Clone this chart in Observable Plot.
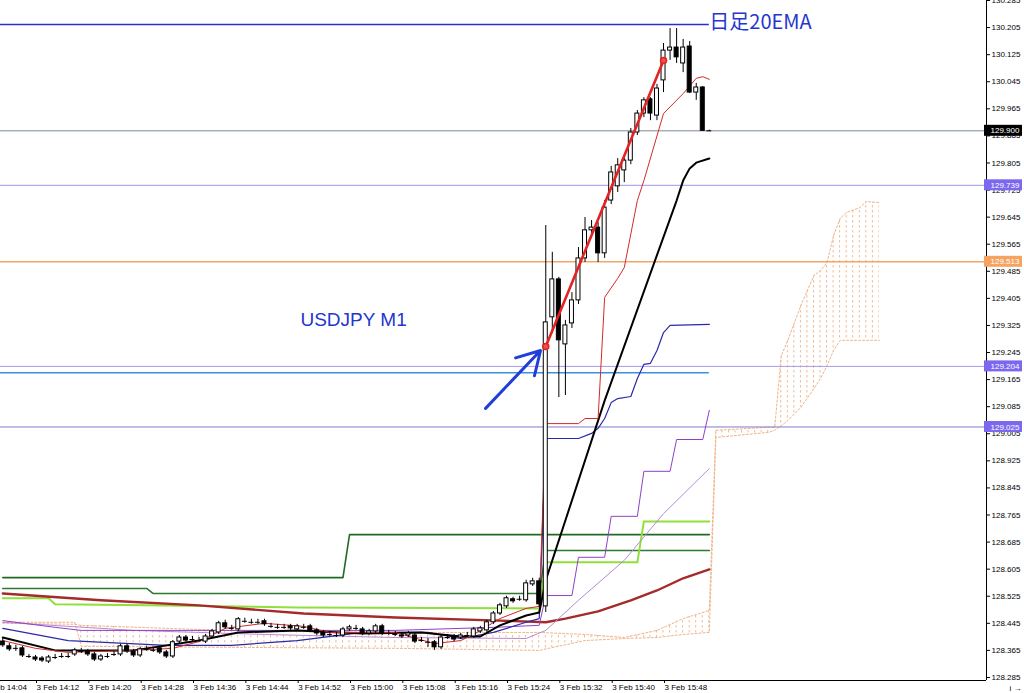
<!DOCTYPE html>
<html><head><meta charset="utf-8">
<script src="https://cdn.jsdelivr.net/npm/d3@7"></script>
<script src="https://cdn.jsdelivr.net/npm/@observablehq/plot@0.6"></script>
<style>html,body{margin:0;padding:0;background:#fff;overflow:hidden}</style>
</head><body><div id="chart"></div>
<script>
// ---- candles (bar index 0 = 3 Feb 14:07, one bar per minute) ----
const openP = [128.391,128.377,128.371,128.371,128.347,128.344,128.341,128.332,128.344,128.347,
128.347,128.353,128.362,128.362,128.353,128.338,128.347,128.353,128.353,128.377,
128.362,128.350,128.368,128.365,128.371,128.359,128.347,128.391,128.403,128.397,
128.394,128.391,128.406,128.418,128.445,128.430,128.427,128.451,128.448,128.448,
128.451,128.436,128.433,128.433,128.436,128.427,128.433,128.436,128.424,128.418,
128.412,128.409,128.409,128.427,128.430,128.427,128.415,128.421,128.436,128.415,
128.412,128.409,128.409,128.409,128.394,128.389,128.389,128.374,128.403,128.406,
128.403,128.409,128.406,128.421,128.424,128.448,128.474,128.495,128.516,128.516,
128.513,128.560,128.569,128.495,129.349,129.461,129.269,129.331,129.399,129.523,
129.606,129.614,129.538,129.694,129.736,129.783,129.812,129.895,129.951,129.993,
129.945,130.049,130.137,130.146,130.099,130.149,130.013,130.028,129.900];
const highP = [128.400,128.385,128.380,128.377,128.353,128.350,128.347,128.350,128.353,128.356,
128.356,128.371,128.371,128.368,128.359,128.353,128.356,128.362,128.383,128.383,
128.368,128.374,128.377,128.374,128.377,128.365,128.394,128.409,128.409,128.406,
128.403,128.412,128.427,128.451,128.454,128.439,128.462,128.460,128.457,128.457,
128.457,128.445,128.442,128.442,128.442,128.442,128.442,128.442,128.430,128.424,
128.421,128.418,128.433,128.439,128.439,128.433,128.427,128.442,128.442,128.424,
128.421,128.415,128.421,128.415,128.403,128.400,128.394,128.409,128.412,128.412,
128.415,128.418,128.433,128.436,128.454,128.480,128.504,128.525,128.522,128.525,
128.572,128.578,128.578,129.620,129.541,129.467,129.340,129.422,129.555,129.644,
129.635,129.629,129.694,129.795,129.818,129.827,129.907,129.960,129.998,129.998,
130.037,130.158,130.202,130.202,130.170,130.164,130.040,130.031,129.902];
const lowP = [128.374,128.362,128.362,128.344,128.341,128.332,128.329,128.326,128.338,128.341,
128.341,128.347,128.356,128.347,128.332,128.332,128.341,128.347,128.347,128.356,
128.344,128.344,128.362,128.359,128.353,128.341,128.341,128.385,128.389,128.391,
128.389,128.385,128.400,128.412,128.427,128.424,128.421,128.445,128.442,128.442,
128.436,128.430,128.427,128.427,128.424,128.421,128.427,128.418,128.409,128.403,
128.406,128.403,128.403,128.421,128.424,128.409,128.409,128.415,128.409,128.409,
128.406,128.400,128.403,128.385,128.389,128.374,128.365,128.368,128.397,128.391,
128.397,128.403,128.400,128.415,128.418,128.442,128.468,128.489,128.504,128.510,
128.507,128.554,128.492,128.477,129.301,129.112,129.118,129.316,129.387,129.511,
129.585,129.511,129.523,129.682,129.718,129.747,129.800,129.886,129.939,129.930,
129.930,130.013,130.108,130.099,130.072,130.010,129.990,129.898,129.898];
const closeP = [128.380,128.368,128.371,128.350,128.347,128.338,128.335,128.344,128.344,128.347,
128.347,128.365,128.362,128.353,128.338,128.347,128.347,128.353,128.377,128.362,
128.350,128.368,128.368,128.365,128.359,128.347,128.389,128.403,128.394,128.397,
128.394,128.406,128.421,128.445,128.433,128.430,128.457,128.451,128.448,128.448,
128.442,128.436,128.433,128.433,128.430,128.436,128.433,128.424,128.415,128.409,
128.412,128.409,128.427,128.433,128.430,128.415,128.421,128.436,128.415,128.415,
128.412,128.406,128.415,128.391,128.394,128.389,128.374,128.403,128.403,128.397,
128.409,128.409,128.427,128.430,128.448,128.474,128.498,128.519,128.510,128.516,
128.563,128.569,128.501,129.334,129.461,129.281,129.325,129.399,129.523,129.606,
129.614,129.538,129.673,129.777,129.798,129.812,129.895,129.951,129.990,129.951,
130.025,130.137,130.146,130.117,130.146,130.013,130.028,129.900,129.900];

// ---- indicator lines: [bar index, price] ----
const tenkan = [[0,128.394],[5,128.371],[10,128.359],[20,128.365],[26,128.371],[30,128.391],[34,128.430],[40,128.445],[46,128.436],[50,128.418],[60,128.418],[66,128.385],[70,128.394],[72,128.412],[76,128.459],[80,128.489],[82,128.495],[83,129.035],[88,129.035],[89,129.050],[91,129.050],[92,129.408],[94,129.464],[95,129.496],[97,129.694],[98,129.753],[101,129.951],[104,130.010],[106,130.055],[107,130.060],[108,130.052]];
const kijun = [[0,128.430],[10,128.394],[25,128.380],[35,128.380],[45,128.394],[55,128.418],[65,128.418],[70,128.400],[75,128.418],[80,128.448],[82,128.459],[83,128.991],[88,128.991],[90,129.006],[91,129.021],[92,129.050],[93,129.097],[94,129.109],[96,129.115],[97,129.168],[98,129.210],[99,129.213],[100,129.251],[101,129.304],[102,129.325],[108,129.328]];
const emaBlack = [[0,128.403],[8,128.365],[20,128.365],[30,128.394],[36,128.418],[45,128.424],[55,128.415],[64,128.418],[70,128.406],[73,128.406],[76,128.439],[80,128.468],[82,128.477],[83,128.572],[92,129.103],[103,129.694],[104,129.753],[105,129.789],[106,129.806],[108,129.818]];
const purpleStep = [[0,128.453],[8,128.433],[12,128.424],[60,128.424],[75,128.433],[82,128.439],[83,128.527],[87,128.527],[88,128.640],[92,128.640],[93,128.761],[97,128.761],[98,128.894],[102,128.894],[103,128.988],[107,128.988],[108,129.074]];
const mauveSma = [[0,128.448],[20,128.424],[40,128.412],[60,128.403],[80,128.400],[83,128.424],[88,128.513],[95,128.631],[101,128.769],[108,128.902]];
const darkRedSma = [[0,128.533],[15,128.513],[30,128.498],[46,128.474],[60,128.462],[76,128.453],[83,128.448],[86,128.459],[91,128.480],[96,128.513],[100,128.542],[104,128.578],[108,128.604]];
const greenDark1 = [[0,128.580],[52,128.580],[53,128.707],[108,128.707]];
const greenDark2 = [[0,128.548],[22,128.548],[23,128.533],[82,128.533],[83,128.660],[108,128.660]];
const greenLight = [[0,128.519],[7,128.519],[8,128.501],[22,128.498],[45,128.492],[82,128.489],[83,128.625],[97,128.625],[98,128.746],[108,128.746]];

// ---- ichimoku cloud (shifted 26 bars forward) ----
const cloudIdx = [0,11,12,34,60,82,89,95,100,104,108,109,117,118,119,120,122,124,125,126,127,128,129,131,132,134];
const spanA = [128.445,128.442,128.439,128.424,128.418,128.418,128.412,128.403,128.424,128.459,128.483,129.015,129.024,129.024,129.236,129.281,129.384,129.473,129.487,129.511,129.591,129.641,129.659,129.673,129.691,129.688];
const spanB = [128.448,128.448,128.377,128.374,128.371,128.365,128.394,128.400,128.403,128.412,128.418,128.994,129.009,129.015,129.029,129.044,129.083,129.139,129.168,129.207,129.251,129.281,129.281,129.281,129.281,129.281];

// ---- horizontal levels ----
const ema20Daily = 130.214;
const lightBlueLevel = 129.185;
const levelValues = [129.900, 129.739, 129.513, 129.204, 129.025];
const levelLineColors = ["#7d8a96", "#a197e6", "#f2a766", "#a59ce6", "#7f7cc9"];
const levelBoxColors = ["#000000", "#7b68ee", "#f4a460", "#7b68ee", "#7b68ee"];

// ---- annotations ----
const trendLine = [[83, 129.263], [101, 130.108]];
const arrowFrom = [73.8, 129.080];
const arrowTo = [82.2, 129.251];
const titleText = {i: 45.5, p: 129.340, t: "USDJPY M1"};
const emaText = {i: 108, p: 130.220, t: "日足20EMA"};

// ---- axes ----
const yTicks = [128.285,128.365,128.445,128.525,128.605,128.685,128.765,128.845,128.925,129.005,
129.085,129.165,129.245,129.325,129.405,129.485,129.565,129.645,129.725,129.805,
129.885,129.965,130.045,130.125,130.205,130.285];
const xTickIdx = [-3,5,13,21,29,37,45,53,61,69,77,85,93,101];
const xTickLabels = ["3 Feb 14:04","3 Feb 14:12","3 Feb 14:20","3 Feb 14:28","3 Feb 14:36","3 Feb 14:44","3 Feb 14:52","3 Feb 15:00","3 Feb 15:08","3 Feb 15:16","3 Feb 15:24","3 Feb 15:32","3 Feb 15:40","3 Feb 15:48"];
const xDomain = [-0.35, 150.37];
const yDomain = [128.276, 130.285];

// build tables
const candles = openP.map((o, i) => ({i, o, h: highP[i], l: lowP[i], c: closeP[i]}));
const bodies = candles.filter(d => d.o !== d.c);
const dojis = candles.filter(d => d.o === d.c);
const cloud = cloudIdx.map((i, k) => ({i, a: spanA[k], b: spanB[k]}));
const levels = levelValues.map((v, k) => ({v, line: levelLineColors[k], box: levelBoxColors[k]}));
const labelMap = new Map(xTickIdx.map((d, k) => [d, xTickLabels[k]]));
const X = d => d[0], Y = d => d[1];
const lineSpecs = [
  [greenDark1, "#1f6b22", 1.6],
  [greenDark2, "#2d7a30", 1.6],
  [greenLight, "#8fe03a", 2],
  [darkRedSma, "#a52a2a", 2.4],
  [mauveSma, "#b88ad2", 1],
  [purpleStep, "#9040c8", 1],
  [kijun, "#2a2aa8", 1.2],
  [emaBlack, "#000000", 2],
  [tenkan, "#d42a2a", 1]
];

const chart = Plot.plot({
  width: 1024, height: 693,
  marginLeft: 0, marginRight: 38, marginTop: 0, marginBottom: 13,
  x: {domain: xDomain},
  y: {domain: yDomain},
  style: {background: "#fff", fontFamily: "'Liberation Sans', Arial, sans-serif", fontSize: "8px", color: "#000"},
  marks: [
    Plot.areaY(cloud, {x: "i", y1: "a", y2: "b", fill: "url(#kumo)", curve: "linear"}),
    Plot.line(cloud, {x: "i", y: "a", stroke: "#efb48a", strokeWidth: 1, strokeDasharray: "2,2"}),
    Plot.line(cloud, {x: "i", y: "b", stroke: "#efb48a", strokeWidth: 1, strokeDasharray: "2,2"}),
    Plot.ruleY(levels, {y: "v", stroke: "line", strokeWidth: d => d.v === 129.513 ? 1.5 : 1}),
    Plot.ruleY([lightBlueLevel], {x1: () => xDomain[0], x2: () => 108, stroke: "#3c8fe0", strokeWidth: 1.6}),
    Plot.ruleY([ema20Daily], {x1: () => xDomain[0], x2: () => 108, stroke: "#2430d4", strokeWidth: 1.6}),
    ...lineSpecs.map(([data, color, w]) => Plot.line(data, {x: X, y: Y, stroke: color, strokeWidth: w})),
    Plot.ruleX(candles, {x: "i", y1: "l", y2: "h", stroke: "#000", strokeWidth: 1}),
    Plot.rect(bodies, {x1: "i", x2: "i", y1: "o", y2: "c", insetLeft: -2, insetRight: -2,
      fill: d => d.c > d.o ? "#fff" : "#000", stroke: "#000", strokeWidth: 1}),
    Plot.ruleY(dojis, {y: "c", x1: "i", x2: "i", insetLeft: -2.5, insetRight: -2.5, stroke: "#000"}),
    Plot.line(trendLine, {x: X, y: Y, stroke: "#e42222", strokeWidth: 2.6}),
    Plot.dot(trendLine, {x: X, y: Y, r: 3, fill: "#ee5050", stroke: "#e42222"}),
    Plot.arrow([{a: arrowFrom, b: arrowTo}], {x1: d => d.a[0], y1: d => d.a[1], x2: d => d.b[0], y2: d => d.b[1],
      stroke: "#1f3fd8", strokeWidth: 3, headLength: 13}),
    Plot.text([titleText], {x: "i", y: "p", text: "t", fontSize: 19, fill: "#2536d0", textAnchor: "start",
      fontFamily: "'Liberation Sans', Arial, sans-serif"}),
    Plot.text([emaText], {x: "i", y: "p", text: "t", fontSize: 20, fill: "#2536d0", textAnchor: "start",
      fontFamily: "'Noto Sans CJK JP', 'Liberation Sans', sans-serif"}),
    Plot.ruleX([xDomain[1]], {stroke: "#000"}),
    Plot.ruleY([yDomain[0]], {stroke: "#000"}),
    Plot.axisY(yTicks, {anchor: "right", tickSize: 3, tickPadding: 2, tickFormat: d => d.toFixed(3), fontSize: 8, stroke: "#000"}),
    Plot.axisX(xTickIdx, {anchor: "bottom", tickSize: 3, tickPadding: 1, tickFormat: d => labelMap.get(d), textAnchor: "start", dx: 1, fontSize: 8}),
    Plot.rect(levels, {x1: () => xDomain[1], x2: () => xDomain[1], y1: "v", y2: "v",
      insetLeft: -2, insetRight: -36, insetTop: -5.5, insetBottom: -5.5, fill: "box"}),
    Plot.text(levels, {x: () => xDomain[1], y: "v", text: d => d.v.toFixed(3), fill: "#fff", textAnchor: "start", dx: 4, fontSize: 8})
  ]
});

// vertical dotted hatching for the cloud, one line per bar
const sx = chart.scale("x");
const step = sx.apply(1) - sx.apply(0);
const off = sx.apply(0);
const ns = "http://www.w3.org/2000/svg";
const defs = document.createElementNS(ns, "defs");
defs.innerHTML = `<pattern id="kumo" patternUnits="userSpaceOnUse" x="${off - 0.5}" y="0" width="${step}" height="5">
<line x1="0.5" y1="0" x2="0.5" y2="2.5" stroke="#f1b991" stroke-width="1"/></pattern>`;
chart.insertBefore(defs, chart.firstChild);
document.getElementById("chart").appendChild(chart);
</script>
</body></html>
